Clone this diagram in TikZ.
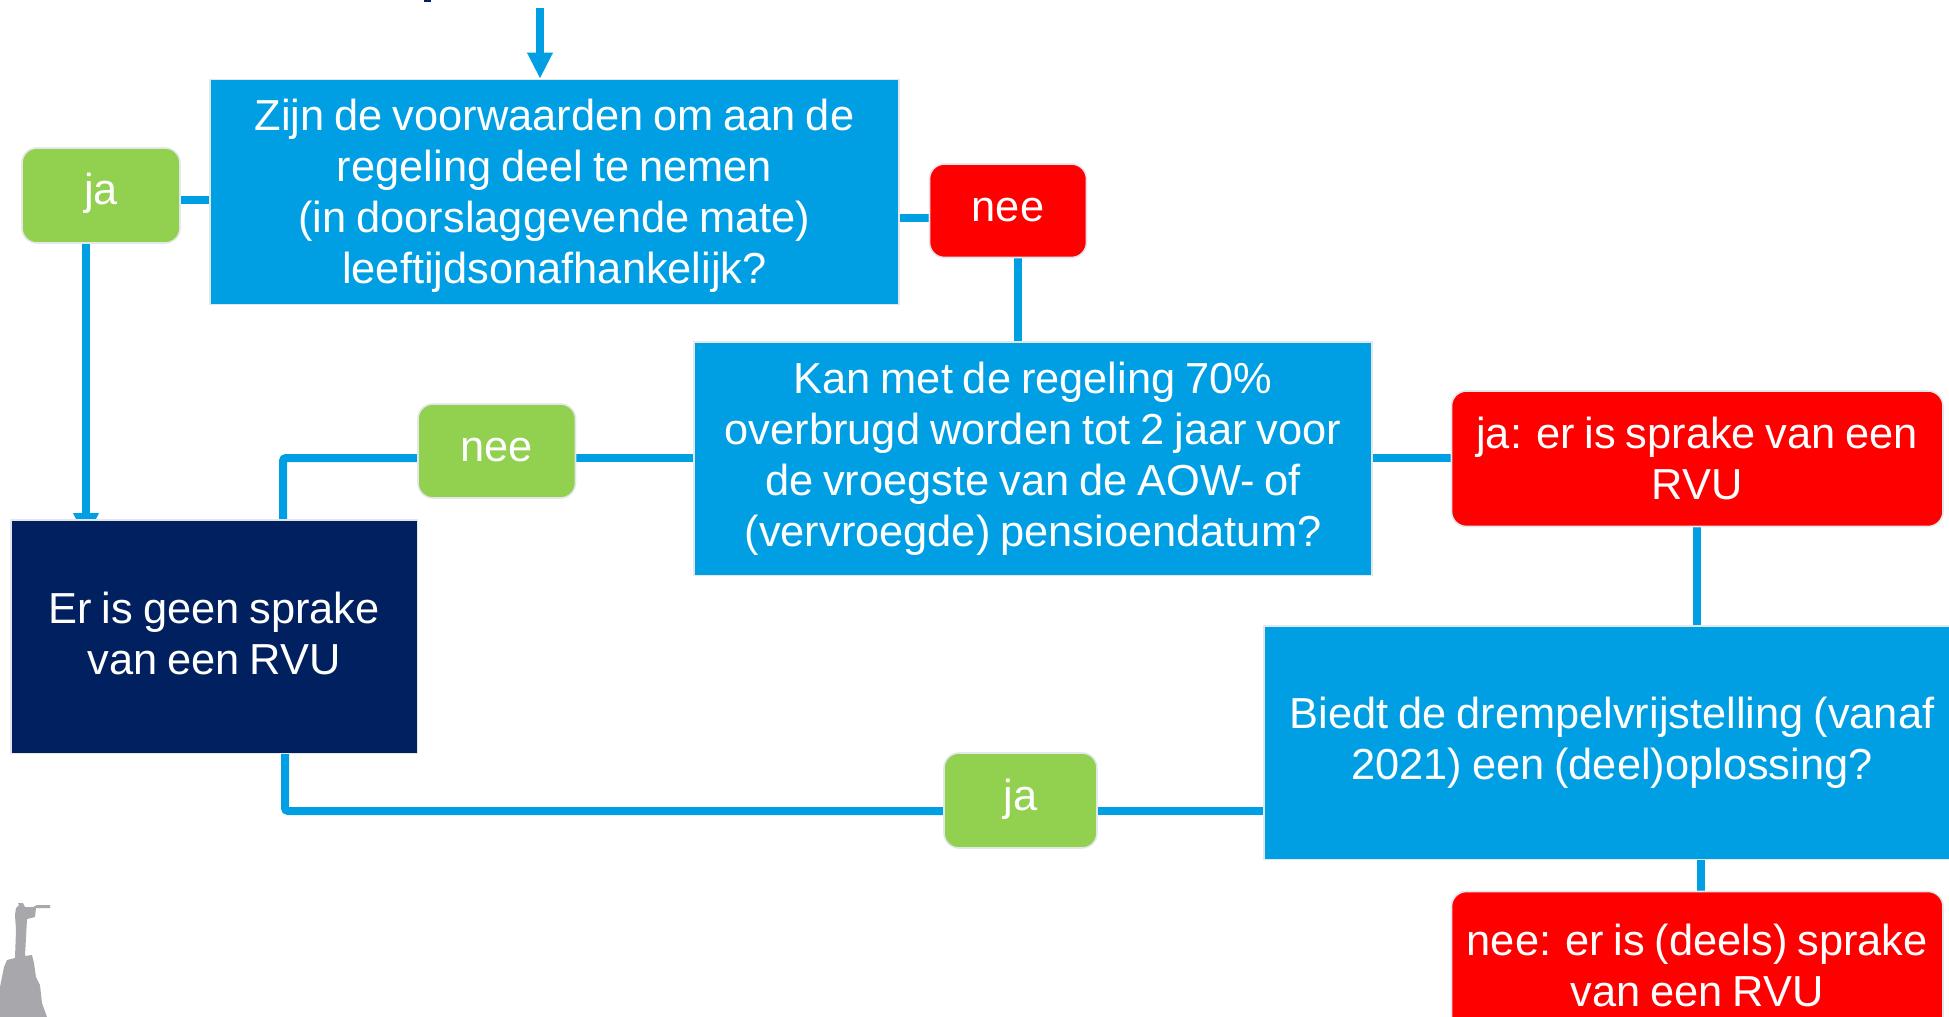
\documentclass[tikz,border=0pt]{standalone}
\usepackage{fontspec}
\setmainfont[WordSpace=0.82]{Liberation Sans}
\usetikzlibrary{arrows.meta,backgrounds}
\definecolor{bl}{HTML}{009FE3}
\definecolor{navy}{HTML}{002060}
\definecolor{grn}{HTML}{92D050}
\definecolor{rd}{HTML}{FF0000}
\definecolor{edge}{HTML}{E4E7EA}
\definecolor{logo}{HTML}{A7A7AC}
\tikzset{
  base/.style={draw=edge,line width=1.6pt,inner sep=0pt,text=white,align=center,font=\fontsize{43.4}{51}\selectfont},
  sq/.style={base,rectangle},
  rnd/.style={base,rectangle,rounded corners=15pt},
  conn/.style={draw=bl,line width=8pt,rounded corners=3pt},
  arrowconn/.style={draw=bl,line width=8pt,-{Triangle[width=24pt,length=26pt]}}
}
\newcommand{\bx}[7]{\node[#1,fill=#2,minimum width=#5-#3,minimum height=#6-#4] (#7) at ({(#3+#5)/2},{(#4+#6)/2})}
% raise the ink of a text without changing the box the node centres
\newsavebox{\shbox}
\newcommand{\shifted}[2]{\sbox{\shbox}{#2}\raisebox{#1}[\ht\shbox][\dp\shbox]{\usebox{\shbox}}}
\begin{document}
\begin{tikzpicture}[x=1pt,y=-1pt]
\useasboundingbox (0,0) rectangle (1949,1017);
\bx{sq}{bl}{210}{79.5}{899}{304.5}{q1} {\shifted{-4pt}{\parbox{680pt}{\centering Zijn de voorwaarden om aan de\\regeling deel te nemen\\(in doorslaggevende mate)\\leeftijdsonafhankelijk?}}};
\bx{rnd}{grn}{22}{148}{180}{243}{jaA} {\shifted{2pt}{ja}};
\bx{rnd}{rd}{929.5}{164}{1086.5}{257.5}{neeA} {\shifted{1pt}{nee}};
\bx{sq}{bl}{694}{342}{1372}{575.5}{q2} {Kan met de regeling 70\%\\overbrugd worden tot 2 jaar voor\\de vroegste van de AOW- of\\(vervroegde) pensioendatum?};
\bx{rnd}{grn}{418}{404}{575.5}{498}{neeB} {\shifted{1pt}{nee}};
\bx{sq}{navy}{11}{520}{417.5}{753.5}{endbox} {\shifted{3.5pt}{\parbox{400pt}{\centering Er is geen sprake\\van een RVU}}};
\bx{rnd}{rd}{1451.5}{391}{1943}{526.5}{jaR} {ja: er is sprake van een\\RVU};
\bx{sq}{bl}{1264}{626}{1960}{859.5}{q3} {Biedt de drempelvrijstelling (vanaf\\2021) een (deel)oplossing?};
\bx{rnd}{grn}{944}{753}{1097}{848}{jaB} {\shifted{1pt}{ja}};
\bx{rnd}{rd}{1451.5}{891.5}{1943}{1040}{neeR} {nee: er is (deels) sprake\\van een RVU};
\coordinate (start) at (540,8);
\begin{pgfonlayer}{background}
\draw[arrowconn] (start) -- (start |- q1.north);
\draw[conn] (jaA.east |- 0,200) -- (q1.west |- 0,200);
\draw[arrowconn] (86,243) -- (86,539);
\draw[conn] (q1.east |- 0,218) -- (neeA.west |- 0,218);
\draw[conn] (1018,257) -- (1018,342);
\draw[conn] (q2.west |- 0,458) -- (neeB.east |- 0,458);
\draw[conn] (neeB.west |- 0,458) -- (283,458) -- (283,520);
\draw[conn] (q2.east |- 0,458) -- (jaR.west |- 0,458);
\draw[conn] (1697,526) -- (1697,626);
\draw[conn] (1701,859) -- (1701,892);
\draw[conn] (285,753) -- (285,811) -- (jaB.west |- 0,811);
\draw[conn] (jaB.east |- 0,811) -- (q3.west |- 0,811);
\end{pgfonlayer}
% small navy mark cut off at the top edge
\fill[navy] (424,0) rectangle (431,2);
% logo silhouette
\fill[logo] (0,987) -- (4,967) -- (7,960) -- (15,958) -- (16,930) -- (15,915) -- (16,908) -- (19,905) -- (18,903) -- (23,903) -- (25,907) -- (33,907) -- (37,905) -- (50,905) -- (50,908) -- (36,908) -- (35,917) -- (27,919) -- (25,956) -- (32,955) -- (34,963) -- (36,977) -- (40,985) -- (42,1003) -- (47,1017) -- (0,1017) -- cycle;
\end{tikzpicture}
\end{document}
